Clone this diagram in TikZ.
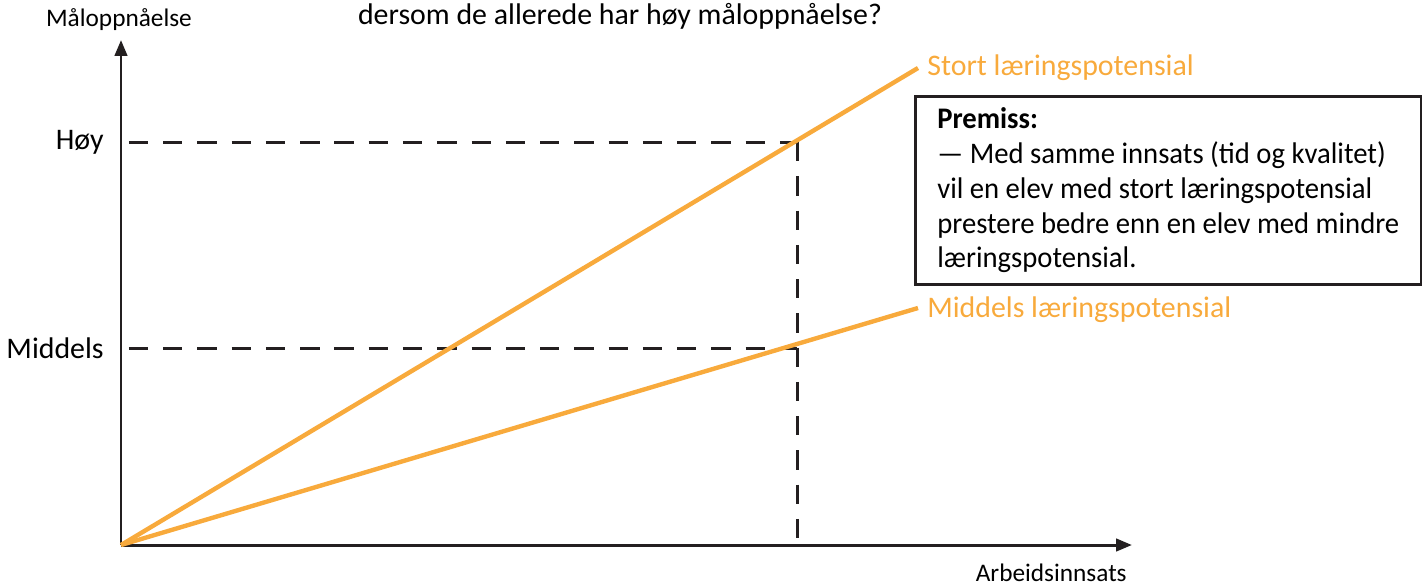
\documentclass[tikz,border=0pt]{standalone}
\usepackage{fontspec}
\setmainfont{Carlito}
\newfontfamily\premissfont[FakeStretch=0.96, Ligatures=TeX]{Carlito}
\usetikzlibrary{arrows.meta,positioning}

\definecolor{potorange}{RGB}{248,170,60}
\definecolor{axisgray}{RGB}{35,31,32}

\tikzset{
	axisline/.style={line width=1.7pt, draw=axisgray, -{Triangle[length=9pt, width=7pt]}},
	guideline/.style={line width=1.7pt, draw=axisgray, dash pattern=on 11pt off 8.5pt, dash phase=15pt},
	potline/.style={line width=2.5pt, draw=potorange},
	potlabel/.style={text=potorange, anchor=west, inner sep=0pt, font=\fontsize{17pt}{20pt}\selectfont},
	levellabel/.style={anchor=east, inner sep=0pt, font=\fontsize{17pt}{20pt}\selectfont},
	axislabel/.style={inner sep=0pt, font=\fontsize{14.4pt}{17pt}\selectfont},
	premissbox/.style={draw=axisgray, line width=1.5pt, anchor=north west, align=left,
		inner xsep=0.44cm, inner ysep=0.23cm,
		font=\premissfont\fontsize{17pt}{19.8pt}\selectfont}
}

\begin{document}
\begin{tikzpicture}[x=0.02cm, y=-0.02cm]
	\useasboundingbox (0,0) rectangle (1427,586);
	% Punkter
	\coordinate (origo) at (121,545);
	\coordinate (ytop) at (121,40);
	\coordinate (xend) at (1132,545);
	\coordinate (hoyakse) at (121,142);
	\coordinate (midakse) at (121,348);
	\coordinate (hoypunkt) at (797,142);
	\coordinate (midpunkt) at (797,348);
	\coordinate (innsats) at (797,545);
	\coordinate (stortend) at (918,68);
	\coordinate (middelsend) at (918,308);
	% Hjelpelinjer
	\draw[guideline] (hoyakse) -- (hoypunkt);
	\draw[guideline] (midakse) -- (midpunkt);
	\draw[guideline, dash phase=0pt] (hoypunkt) -- (innsats);
	% Akser
	\draw[axisline] (origo) -- (ytop);
	\draw[axisline] (origo) -- (xend);
	% Potensial
	\draw[potline] (origo) -- (stortend);
	\draw[potline] (origo) -- (middelsend);
	% Tekster
	\node[axislabel] (yaksetekst) at (119,20) {Måloppnåelse};
	\node[axislabel, anchor=east] (xaksetekst) at (1127,573) {Arbeidsinnsats};
	\node[axislabel, font=\fontsize{17pt}{20pt}\selectfont] (tittel) at (620,16) {dersom de allerede har høy måloppnåelse?};
	\node[levellabel] (hoy) at (104,142) {Høy};
	\node[levellabel] (middels) at (104,348) {Middels};
	\node[potlabel] (stort) at (927,68) {Stort læringspotensial};
	\node[potlabel] (middelspot) at (927,310) {Middels læringspotensial};
	\node[premissbox] (premiss) at (914,95) {\textbf{Premiss:}\\
		— Med samme innsats (tid og kvalitet)\\
		vil en elev med stort læringspotensial\\
		prestere bedre enn en elev med mindre\\
		læringspotensial.};
\end{tikzpicture}
\end{document}
